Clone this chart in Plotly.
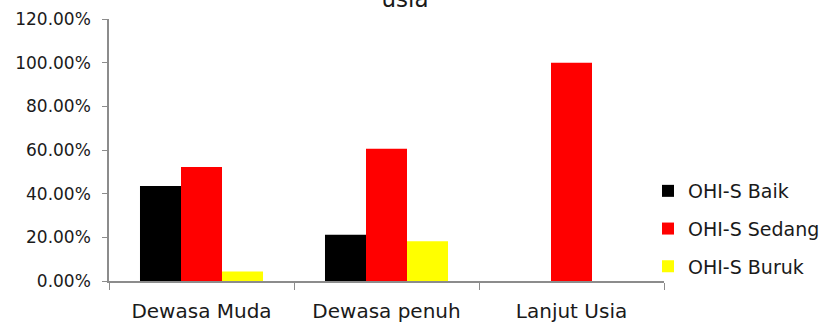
import plotly.graph_objects as go

categories = ["Dewasa Muda", "Dewasa penuh", "Lanjut Usia"]
series_names = ["OHI-S Baik", "OHI-S Sedang", "OHI-S Buruk"]
baik = [0.4348, 0.2121, None]
sedang = [0.5217, 0.6061, 1.0]
buruk = [0.0435, 0.1818, None]
y_ticks = [0, 0.2, 0.4, 0.6, 0.8, 1.0, 1.2]
title_text = "usia"

colors = ["#000000", "#FF0000", "#FFFF00"]
FONT = "DejaVu Sans, sans-serif"
TXT = "#1a1a1a"

fig = go.Figure()
for i, (name, vals) in enumerate(zip(series_names, [baik, sedang, buruk])):
    fig.add_trace(go.Bar(
        x=categories, y=vals, name=name,
        marker=dict(color=colors[i], line=dict(width=0)),
        legendgroup=name,
    ))

fig.update_layout(
    width=835, height=327,
    margin=dict(l=109, r=171, t=19, b=46, autoexpand=False),
    paper_bgcolor="white", plot_bgcolor="white",
    barmode="group", bargap=0.335, bargroupgap=0,
    font=dict(family=FONT, size=17, color=TXT),
    title=dict(text=title_text, x=405/835, xanchor="center", xref="container",
               y=1 - 7/327, yref="container", yanchor="bottom",
               font=dict(size=23, family=FONT, color=TXT)),
    legend=dict(xref="container", yref="container",
                x=648/835, xanchor="left", y=1 - 229/327, yanchor="middle",
                font=dict(size=19, family=FONT, color=TXT),
                traceorder="grouped", tracegroupgap=10,
                itemwidth=30, bgcolor="rgba(0,0,0,0)"),
    showlegend=True,
)
fig.update_xaxes(
    automargin=False,
    showline=True, linecolor="#8c8c8c", linewidth=1.5,
    ticks="outside", tickson="boundaries", ticklen=7, tickcolor="#8c8c8c",
    ticklabelstandoff=11,
    showgrid=False, tickfont=dict(size=20, family=FONT, color=TXT),
)
fig.update_yaxes(
    automargin=False,
    range=[0, 1.2], tickvals=y_ticks, tickformat=".2%",
    showline=True, linecolor="#8c8c8c", linewidth=1.5,
    ticks="outside", ticklen=5, tickcolor="#8c8c8c",
    ticklabelstandoff=8,
    showgrid=False, zeroline=False,
    tickfont=dict(size=17, family=FONT, color=TXT),
)

fig.write_html("out.html")
